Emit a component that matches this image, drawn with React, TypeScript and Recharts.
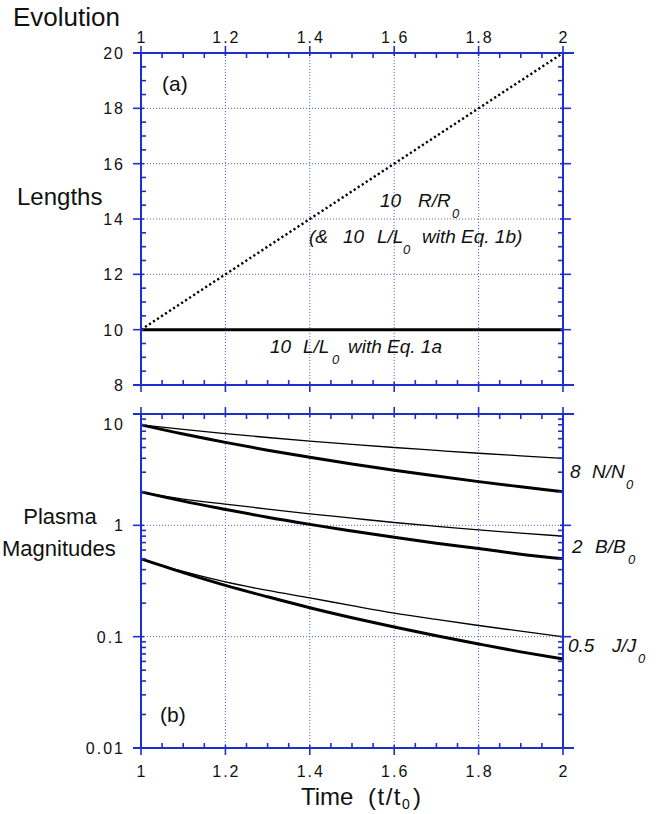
import { LineChart, Line, XAxis, YAxis, ReferenceLine } from 'recharts'

// time axis samples (t/t0)
const times = [1, 1.1, 1.2, 1.3, 1.4, 1.5, 1.6, 1.7, 1.8, 1.9, 2]

// panel (a): lengths
const radius10 = [10, 11, 12, 13, 14, 15, 16, 17, 18, 19, 20]
const length10Eq1a = [10, 10, 10, 10, 10, 10, 10, 10, 10, 10, 10]

// panel (b): plasma magnitudes, thin and thick curves
const densityThin = [8, 7.27, 6.67, 6.15, 5.71, 5.33, 5.0, 4.71, 4.44, 4.21, 4.0]
const densityThick = [8, 6.61, 5.56, 4.73, 4.08, 3.56, 3.13, 2.77, 2.47, 2.22, 2.0]
const fieldThin = [2, 1.72, 1.55, 1.4, 1.27, 1.16, 1.06, 0.98, 0.91, 0.85, 0.8]
const fieldThick = [2, 1.65, 1.39, 1.18, 1.02, 0.89, 0.78, 0.69, 0.62, 0.55, 0.5]
const currentThin = [0.5, 0.385, 0.31, 0.26, 0.223, 0.19, 0.163, 0.143, 0.126, 0.112, 0.1]
const currentThick = [0.5, 0.376, 0.289, 0.228, 0.182, 0.148, 0.122, 0.102, 0.086, 0.073, 0.063]

// ticks
const xMajors = [1, 1.2, 1.4, 1.6, 1.8, 2]
const xGrid = [1.2, 1.4, 1.6, 1.8]
const lenMajors = [8, 10, 12, 14, 16, 18, 20]
const lenGrid = [12, 14, 16, 18]
const logMajors = [0.01, 0.1, 1, 10]
const logGrid = [0.1, 1]

const xTicks: number[] = []
for (let i = 0; i <= 20; i++) xTicks.push(+(1 + i * 0.05).toFixed(2))
const lenTicks: number[] = []
for (let i = 0; i <= 24; i++) lenTicks.push(8 + i * 0.5)
const logTicks: number[] = []
for (const d of [0.01, 0.1, 1]) for (let k = 1; k <= 9; k++) logTicks.push(+(d * k).toPrecision(2))
logTicks.push(10)

const lengthRows = times.map((t, i) => ({ t, r: radius10[i], l: length10Eq1a[i] }))
const plasmaRows = times.map((t, i) => ({
  t,
  nThin: densityThin[i],
  nThick: densityThick[i],
  bThin: fieldThin[i],
  bThick: fieldThick[i],
  jThin: currentThin[i],
  jThick: currentThick[i],
}))

const AXIS_BLUE = '#1f2fcc'
const GRID_BLUE = '#5064dc'
const FONT = '"Liberation Sans", Arial, Helvetica, sans-serif'

type Side = 'top' | 'bottom' | 'left' | 'right'

interface TickOpts {
  side: Side
  at: number
  majors: number[]
  labels?: boolean
  shift?: (v: number) => number
}

function makeTick(o: TickOpts) {
  return (props: any) => {
    const v: number = props.payload.value
    const c: number = props.payload.coordinate
    const major = o.majors.some((m) => Math.abs(m - v) < 1e-9)
    const st = { stroke: AXIS_BLUE, strokeWidth: 1.6 }
    const els: any[] = []
    const a = o.at
    if (o.side === 'top') {
      els.push(major ? <line key="t" x1={c} x2={c} y1={a - 7} y2={a + 3} {...st} /> : <line key="t" x1={c} x2={c} y1={a} y2={a + 5} {...st} />)
    } else if (o.side === 'bottom') {
      els.push(major ? <line key="t" x1={c} x2={c} y1={a - 3} y2={a + 7} {...st} /> : <line key="t" x1={c} x2={c} y1={a - 5} y2={a} {...st} />)
    } else if (o.side === 'left') {
      els.push(major ? <line key="t" x1={a - 8} x2={a + 3} y1={c} y2={c} {...st} /> : <line key="t" x1={a} x2={a + 5} y1={c} y2={c} {...st} />)
    } else {
      els.push(major ? <line key="t" x1={a - 3} x2={a + 8} y1={c} y2={c} {...st} /> : <line key="t" x1={a - 5} x2={a} y1={c} y2={c} {...st} />)
    }
    // horizontal axis line runs a little past the frame
    if ((o.side === 'top' || o.side === 'bottom') && (v === 1 || v === 2)) {
      els.push(<line key="e" x1={v === 1 ? c - 8 : c} x2={v === 1 ? c : c + 11} y1={a} y2={a} stroke={AXIS_BLUE} strokeWidth={2} />)
    }
    if (major && o.labels) {
      const txt = String(v)
      const common = { fontFamily: FONT, fontSize: 16, letterSpacing: 2, fill: '#111' }
      if (o.side === 'top') {
        els.push(<text key="l" x={c + 1} y={a - 10} textAnchor="middle" {...common}>{txt}</text>)
      } else if (o.side === 'bottom') {
        els.push(<text key="l" x={c + 1} y={a + 29} textAnchor="middle" {...common}>{txt}</text>)
      } else if (o.side === 'left') {
        const dy = o.shift ? o.shift(v) : 0
        els.push(<text key="l" x={a - 16} y={c + 6 + dy} textAnchor="end" {...common}>{txt}</text>)
      }
    }
    return <g>{els}</g>
  }
}

function Sub({ x, y, main, sub, subX, size = 19 }: { x: number; y: number; main: string; sub: string; subX: number; size?: number }) {
  return (
    <g fontFamily={FONT} fontStyle="italic" fill="#111">
      <text x={x} y={y} fontSize={size}>{main}</text>
      <text x={subX} y={y + 11} fontSize={13}>{sub}</text>
    </g>
  )
}

const axisLine = { stroke: AXIS_BLUE, strokeWidth: 2 }

function LengthsPanel() {
  return (
    <LineChart width={667} height={400} data={lengthRows} margin={{ top: 52, right: 103, bottom: 14, left: 140 }}>
      <XAxis xAxisId="top" orientation="top" type="number" dataKey="t" domain={[1, 2]} ticks={xTicks} interval={0} height={1}
        axisLine={axisLine} tickLine={false} tick={makeTick({ side: 'top', at: 53, majors: xMajors, labels: true })} />
      <XAxis xAxisId="bottom" orientation="bottom" type="number" dataKey="t" domain={[1, 2]} ticks={xTicks} interval={0} height={1}
        axisLine={axisLine} tickLine={false} tick={makeTick({ side: 'bottom', at: 385, majors: xMajors })} />
      <YAxis yAxisId="left" type="number" domain={[8, 20]} ticks={lenTicks} interval={0} width={1} allowDataOverflow
        axisLine={axisLine} tickLine={false} tick={makeTick({ side: 'left', at: 141, majors: lenMajors, labels: true })} />
      <YAxis yAxisId="right" orientation="right" type="number" domain={[8, 20]} ticks={lenTicks} interval={0} width={1} allowDataOverflow
        axisLine={axisLine} tickLine={false} tick={makeTick({ side: 'right', at: 563, majors: lenMajors })} />
      {xGrid.map((x) => (
        <ReferenceLine key={'x' + x} xAxisId="bottom" yAxisId="left" x={x} stroke={GRID_BLUE} strokeWidth={1} strokeDasharray="1 2" />
      ))}
      {lenGrid.map((y) => (
        <ReferenceLine key={'y' + y} xAxisId="bottom" yAxisId="left" y={y} stroke={GRID_BLUE} strokeWidth={1} strokeDasharray="1 2" />
      ))}
      <Line xAxisId="bottom" yAxisId="left" type="linear" dataKey="l" stroke="#000" strokeWidth={3} dot={false} isAnimationActive={false} />
      <Line xAxisId="bottom" yAxisId="left" type="linear" dataKey="r" stroke="#000" strokeWidth={2.4} strokeDasharray="2.2 2.6" dot={false} isAnimationActive={false} />
    </LineChart>
  )
}

function PlasmaPanel() {
  const thin = { stroke: '#000', strokeWidth: 1.3, dot: false, isAnimationActive: false, type: 'monotone' as const }
  const thick = { stroke: '#000', strokeWidth: 3, dot: false, isAnimationActive: false, type: 'monotone' as const }
  return (
    <LineChart width={667} height={414} data={plasmaRows} margin={{ top: 13, right: 103, bottom: 65, left: 140 }}>
      <XAxis xAxisId="top" orientation="top" type="number" dataKey="t" domain={[1, 2]} ticks={xTicks} interval={0} height={1}
        axisLine={axisLine} tickLine={false} tick={makeTick({ side: 'top', at: 14, majors: xMajors })} />
      <XAxis xAxisId="bottom" orientation="bottom" type="number" dataKey="t" domain={[1, 2]} ticks={xTicks} interval={0} height={1}
        axisLine={axisLine} tickLine={false} tick={makeTick({ side: 'bottom', at: 348, majors: xMajors, labels: true })} />
      <YAxis yAxisId="left" type="number" scale="log" domain={[0.01, 10]} ticks={logTicks} interval={0} width={1} allowDataOverflow
        axisLine={axisLine} tickLine={false}
        tick={makeTick({ side: 'left', at: 141, majors: logMajors, labels: true, shift: (v) => (v === 10 ? 10 : 0) })} />
      <YAxis yAxisId="right" orientation="right" type="number" scale="log" domain={[0.01, 10]} ticks={logTicks} interval={0} width={1} allowDataOverflow
        axisLine={axisLine} tickLine={false} tick={makeTick({ side: 'right', at: 563, majors: logMajors })} />
      {xGrid.map((x) => (
        <ReferenceLine key={'x' + x} xAxisId="bottom" yAxisId="left" x={x} stroke={GRID_BLUE} strokeWidth={1} strokeDasharray="1 2" />
      ))}
      {logGrid.map((y) => (
        <ReferenceLine key={'y' + y} xAxisId="bottom" yAxisId="left" y={y} stroke={GRID_BLUE} strokeWidth={1} strokeDasharray="1 2" />
      ))}
      <Line xAxisId="bottom" yAxisId="left" dataKey="nThin" {...thin} />
      <Line xAxisId="bottom" yAxisId="left" dataKey="nThick" {...thick} />
      <Line xAxisId="bottom" yAxisId="left" dataKey="bThin" {...thin} />
      <Line xAxisId="bottom" yAxisId="left" dataKey="bThick" {...thick} />
      <Line xAxisId="bottom" yAxisId="left" dataKey="jThin" {...thin} />
      <Line xAxisId="bottom" yAxisId="left" dataKey="jThick" {...thick} />
    </LineChart>
  )
}

export default function App() {
  return (
    <div style={{ position: 'absolute', left: 0, top: 0, width: 667, height: 814, background: '#fff', fontFamily: FONT }}>
      <div style={{ position: 'absolute', left: 0, top: 0 }}>
        <LengthsPanel />
      </div>
      <div style={{ position: 'absolute', left: 0, top: 400 }}>
        <PlasmaPanel />
      </div>
      <svg width={667} height={814} style={{ position: 'absolute', left: 0, top: 0, pointerEvents: 'none' }}>
        <g fontFamily={FONT} fill="#111">
          <text x={13} y={26} fontSize={26}>Evolution</text>
          <text x={17} y={205} fontSize={24}>Lengths</text>
          <text x={60} y={524} fontSize={22} textAnchor="middle">Plasma</text>
          <text x={2} y={556} fontSize={22}>Magnitudes</text>
          <text x={162} y={91} fontSize={21}>(a)</text>
          <text x={160} y={722} fontSize={21}>(b)</text>
          <text x={301} y={805} fontSize={24}>Time</text>
          <text x={368} y={805} fontSize={24} letterSpacing={1.5}>(t/t</text>
          <text x={402} y={809} fontSize={14}>0</text>
          <text x={413} y={805} fontSize={24}>)</text>
        </g>
        <g fontFamily={FONT} fontStyle="italic" fill="#111" fontSize={19}>
          <text x={380} y={207}>10</text>
          <text x={309} y={243}>(&amp;</text>
          <text x={343} y={243}>10</text>
          <text x={422} y={243}>with Eq. 1b)</text>
          <text x={270} y={353}>10</text>
          <text x={348} y={353}>with Eq. 1a</text>
          <text x={570} y={478}>8</text>
          <text x={572} y={553}>2</text>
          <text x={568} y={652}>0.5</text>
        </g>
        <Sub x={418} y={207} main="R/R" sub="0" subX={452} />
        <Sub x={377} y={243} main="L/L" sub="0" subX={403} />
        <Sub x={303} y={353} main="L/L" sub="0" subX={332} />
        <Sub x={592} y={478} main="N/N" sub="0" subX={626} />
        <Sub x={595} y={553} main="B/B" sub="0" subX={628} />
        <Sub x={612} y={652} main="J/J" sub="0" subX={638} />
      </svg>
    </div>
  )
}
